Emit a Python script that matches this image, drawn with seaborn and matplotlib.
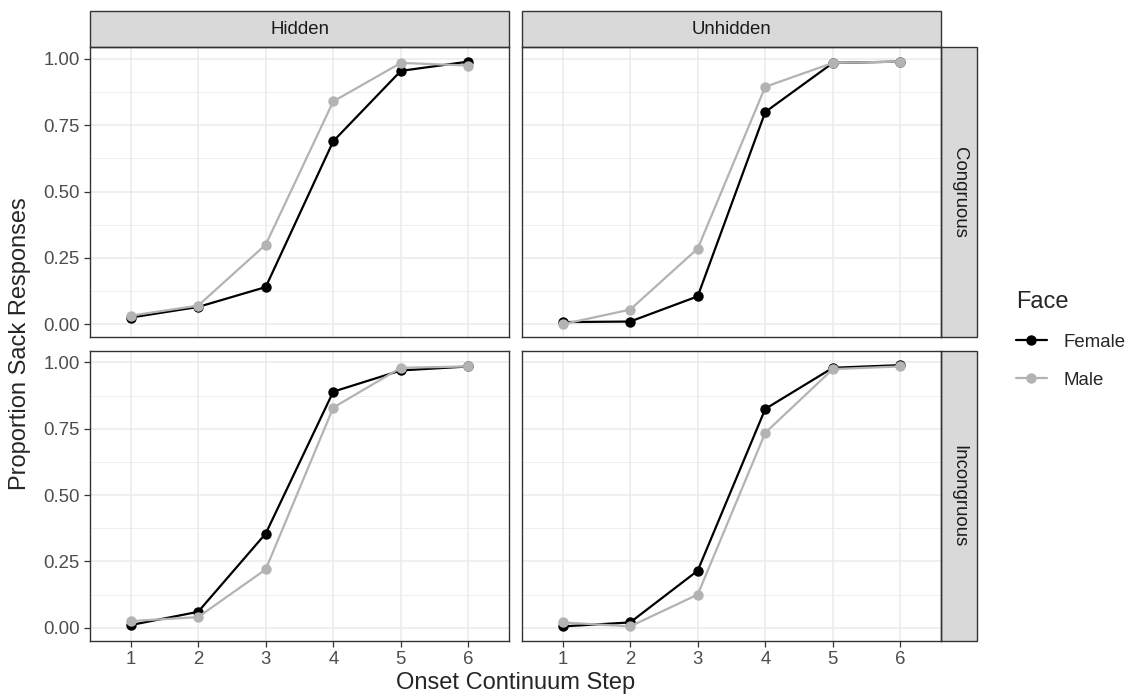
import numpy as np
import pandas as pd
import seaborn as sns
import matplotlib.pyplot as plt
from matplotlib.patches import Rectangle
from matplotlib.lines import Line2D
from matplotlib.ticker import FixedLocator

# values
steps = [1, 2, 3, 4, 5, 6]
faces = ['Female', 'Male']
visibility = ['Hidden', 'Unhidden']
congruency = ['Congruous', 'Incongruous']

hidden_congruous_female = [0.025, 0.065, 0.14, 0.69, 0.955, 0.99]
hidden_congruous_male = [0.032, 0.07, 0.30, 0.84, 0.985, 0.975]
unhidden_congruous_female = [0.008, 0.01, 0.105, 0.80, 0.985, 0.99]
unhidden_congruous_male = [0.0, 0.055, 0.285, 0.895, 0.985, 0.99]
hidden_incongruous_female = [0.01, 0.06, 0.355, 0.89, 0.97, 0.985]
hidden_incongruous_male = [0.025, 0.04, 0.22, 0.83, 0.98, 0.985]
unhidden_incongruous_female = [0.005, 0.02, 0.215, 0.825, 0.98, 0.99]
unhidden_incongruous_male = [0.02, 0.005, 0.125, 0.735, 0.975, 0.985]

series = {
    ('Hidden', 'Congruous', 'Female'): hidden_congruous_female,
    ('Hidden', 'Congruous', 'Male'): hidden_congruous_male,
    ('Unhidden', 'Congruous', 'Female'): unhidden_congruous_female,
    ('Unhidden', 'Congruous', 'Male'): unhidden_congruous_male,
    ('Hidden', 'Incongruous', 'Female'): hidden_incongruous_female,
    ('Hidden', 'Incongruous', 'Male'): hidden_incongruous_male,
    ('Unhidden', 'Incongruous', 'Female'): unhidden_incongruous_female,
    ('Unhidden', 'Incongruous', 'Male'): unhidden_incongruous_male,
}

rows = []
for (vis, cong, face), vals in series.items():
    for s, v in zip(steps, vals):
        rows.append({'Visibility': vis, 'Congruency': cong, 'Face': face,
                     'Step': s, 'Prop': v})
df = pd.DataFrame(rows)

sns.set_style('white')
plt.rcParams['font.family'] = ['Liberation Sans', 'DejaVu Sans']

colors = {'Female': '#000000', 'Male': '#B3B3B3'}
small = 13.4
big = 17

g = sns.FacetGrid(df, row='Congruency', col='Visibility', hue='Face',
                  hue_order=faces, palette=colors,
                  row_order=congruency, col_order=visibility,
                  sharex=True, sharey=True, despine=False)
g.map_dataframe(sns.lineplot, x='Step', y='Prop', marker='o', markersize=7.5,
                markeredgewidth=0, linewidth=1.6)

fig = g.figure
fig.set_size_inches(11.32, 6.98)
fig.set_dpi(100)
fig.subplots_adjust(left=90 / 1132, right=941 / 1132, top=1 - 47 / 698,
                    bottom=1 - 641 / 698, wspace=0.031, hspace=0.045)
g.set_titles('')
g.set_axis_labels('', '')

strip_h = 36
for i, cong in enumerate(congruency):
    for j, vis in enumerate(visibility):
        ax = g.axes[i, j]
        ax.set_xlim(0.4, 6.6)
        ax.set_ylim(-0.05, 1.045)
        ax.set_xticks(steps)
        ax.set_yticks([0, 0.25, 0.5, 0.75, 1.0])
        ax.yaxis.set_minor_locator(FixedLocator([0.125, 0.375, 0.625, 0.875]))
        ax.grid(True, which='major', color='#EBEBEB', linewidth=1.1, zorder=0)
        ax.grid(True, which='minor', axis='y', color='#EBEBEB', linewidth=0.55, zorder=0)
        ax.set_axisbelow(True)
        for sp in ax.spines.values():
            sp.set_color('#333333')
            sp.set_linewidth(1.0)
        ax.tick_params(which='major', length=4.1, width=0.9, color='#333333',
                       labelsize=small, labelcolor='#4D4D4D', pad=3.3,
                       left=(j == 0), bottom=(i == 1))
        ax.tick_params(which='minor', length=0)
        if j == 0:
            ax.set_yticklabels(['0.00', '0.25', '0.50', '0.75', '1.00'])
        if ax.get_legend() is not None:
            ax.get_legend().remove()

        bbox = ax.get_position()
        w_px = bbox.width * 1132
        h_px = bbox.height * 698
        if i == 0:
            ax.add_patch(Rectangle((0, 1), 1, strip_h / h_px, transform=ax.transAxes,
                                   facecolor='#D9D9D9', edgecolor='#333333',
                                   linewidth=1.0, clip_on=False))
            ax.text(0.5, 1 + strip_h / h_px / 2, vis, transform=ax.transAxes,
                    ha='center', va='center', fontsize=small, color='#1A1A1A')
        if j == 1:
            ax.add_patch(Rectangle((1, 0), strip_h / w_px, 1, transform=ax.transAxes,
                                   facecolor='#D9D9D9', edgecolor='#333333',
                                   linewidth=1.0, clip_on=False))
            ax.text(1 + strip_h / w_px / 2, 0.5, cong, transform=ax.transAxes,
                    ha='center', va='center', rotation=-90, fontsize=small,
                    color='#1A1A1A')

fig.text((90 + 941) / 2 / 1132, 1 - 683 / 698, 'Onset Continuum Step',
         ha='center', va='center', fontsize=big)
fig.text(20 / 1132, 1 - (47 + 641) / 2 / 698, 'Proportion Sack Responses',
         ha='center', va='center', rotation=90, fontsize=big)

handles = [Line2D([], [], color=colors[f], marker='o', markersize=7.5,
                  markeredgewidth=0, linewidth=1.6) for f in faces]
leg = fig.legend(handles, faces, title='Face', loc='center left',
                 bbox_to_anchor=(1016 / 1132, 1 - 340 / 698), frameon=False,
                 fontsize=small, title_fontsize=big, handlelength=1.64,
                 labelspacing=1.12, handletextpad=0.93, alignment='left',
                 borderpad=0, borderaxespad=0)

fig.savefig('out.png', dpi=100)
